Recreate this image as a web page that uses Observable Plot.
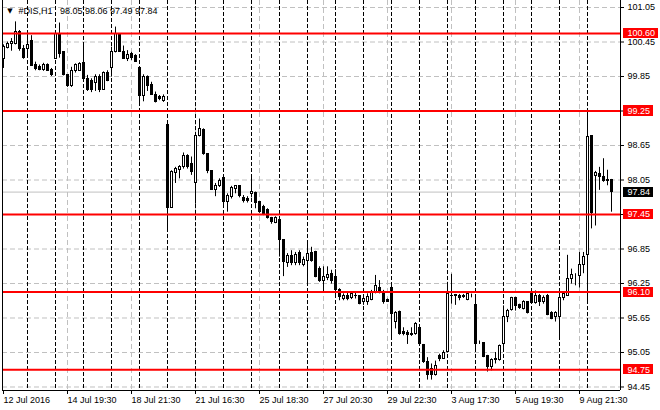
<!DOCTYPE html>
<html>
<head>
<meta charset="utf-8">
<script src="https://cdn.jsdelivr.net/npm/d3@7"></script>
<script src="https://cdn.jsdelivr.net/npm/@observablehq/plot@0.6"></script>
<style>
  body { margin: 0; background: #fff; }
</style>
</head>
<body>
<div id="chart"></div>
<script>
// #DIS H1 bars, one row per trading day (12 Jul 2016 starts mid-session)
const opens = [
  100.16, 100.35, 100.42, 100.42, 100.62, 100.33,
  100.33, 100.46, 100.05, 100.02, 99.97, 100.05, 99.96,
  100.16, 100.59, 100.27, 99.87, 99.68, 99.94, 99.95,
  100.09, 99.80, 99.77, 99.73, 99.85, 99.62, 99.91,
  99.99, 100.27, 100.57, 100.28, 100.15, 100.24, 100.20,
  99.99, 99.51, 99.84, 99.70, 99.53, 99.49, 99.42,
  99.00, 97.57, 98.17, 98.23, 98.27, 98.46, 98.33,
  97.99, 98.82, 98.92, 98.51, 98.20, 97.88, 97.95,
  98.09, 97.66, 97.75, 97.90, 97.94, 97.74, 97.72,
  97.80, 97.82, 97.66, 97.58, 97.53, 97.39, 97.30,
  97.36, 97.01, 96.60, 96.72, 96.60, 96.78, 96.58,
  96.65, 96.78, 96.79, 96.50, 96.29, 96.35, 96.42,
  96.37, 96.13, 95.98, 96.04, 96.00, 96.03, 96.04,
  95.93, 95.92, 95.96, 96.10, 96.18, 96.10, 95.97,
  96.18, 95.58, 95.76, 95.40, 95.39, 95.38, 95.37,
  95.47, 95.18, 94.88, 94.77, 94.66, 94.99, 94.94,
  95.06, 96.04, 96.03, 96.035, 96.03, 95.97, 96.06,
  95.87, 95.22, 95.21, 94.99, 94.79, 94.94, 94.92,
  95.19, 95.675, 95.79, 95.99, 95.87, 95.80, 95.92,
  96.09, 95.91, 96.035, 95.92, 96.035, 95.73, 95.66,
  95.66, 95.99, 96.04, 96.32, 96.36, 96.38, 96.57,
  96.74, 98.81, 98.12, 98.16, 98.10, 98.05, 98.05
]
const highs = [
  100.40, 100.45, 100.51, 100.80, 100.65, 100.39,
  100.63, 100.56, 100.10, 100.05, 100.08, 100.07, 99.99,
  100.65, 100.78, 100.28, 99.88, 100.01, 100.07, 100.09,
  100.38, 99.87, 99.81, 99.88, 99.88, 99.93, 99.95,
  100.36, 100.71, 100.59, 100.38, 100.30, 100.27, 100.23,
  99.99, 99.88, 99.86, 99.75, 99.58, 99.52, 99.53,
  99.04, 98.21, 98.27, 98.30, 98.52, 98.49, 98.45,
  98.82, 99.11, 98.94, 98.51, 98.20, 97.99, 98.07,
  98.10, 97.81, 97.94, 97.95, 97.95, 97.78, 97.76,
  98.13, 97.84, 97.66, 97.61, 97.55, 97.40, 97.41,
  97.37, 97.01, 96.77, 96.82, 96.79, 96.82, 96.71,
  96.97, 96.88, 96.81, 96.54, 96.54, 96.54, 96.48,
  96.49, 96.16, 96.07, 96.08, 96.10, 96.10, 96.04,
  96.00, 96.07, 96.13, 96.39, 96.30, 96.13, 95.98,
  96.21, 95.76, 95.77, 95.48, 95.43, 95.48, 95.57,
  95.48, 95.19, 94.96, 94.85, 94.90, 95.02, 95.08,
  96.27, 96.41, 96.06, 96.06, 96.06, 96.09, 96.065,
  96.04, 95.25, 95.22, 95.00, 94.94, 95.05, 95.18,
  95.86, 95.80, 96.01, 96.01, 95.89, 95.95, 95.93,
  96.16, 96.12, 96.06, 96.035, 96.06, 95.76, 95.76,
  96.13, 96.11, 96.74, 96.50, 96.42, 96.79, 96.79,
  99.23, 98.82, 98.20, 98.27, 98.42, 98.22, 98.06
]
const lows = [
  99.99, 100.33, 100.29, 100.40, 100.29, 100.15,
  100.22, 100.03, 99.95, 99.95, 99.94, 99.94, 99.85,
  100.15, 100.17, 99.86, 99.66, 99.66, 99.91, 99.94,
  99.80, 99.59, 99.57, 99.59, 99.57, 99.61, 99.76,
  99.84, 100.26, 100.27, 100.15, 100.11, 100.13, 100.10,
  99.33, 99.41, 99.59, 99.52, 99.39, 99.43, 99.40,
  97.14, 97.56, 97.99, 98.07, 98.24, 98.24, 98.13,
  97.63, 98.80, 98.48, 98.16, 97.87, 97.76, 97.92,
  97.58, 97.49, 97.72, 97.81, 97.74, 97.65, 97.65,
  97.74, 97.55, 97.47, 97.43, 97.37, 97.28, 97.29,
  96.71, 96.37, 96.53, 96.56, 96.56, 96.56, 96.54,
  96.20, 96.62, 96.35, 96.27, 96.10, 96.30, 96.24,
  96.05, 95.95, 95.95, 95.95, 95.97, 95.98, 95.88,
  95.87, 95.87, 95.95, 96.07, 96.07, 95.89, 95.92,
  95.30, 95.46, 95.35, 95.34, 95.19, 95.33, 95.35,
  95.17, 94.86, 94.57, 94.57, 94.64, 94.89, 94.93,
  95.04, 95.89, 95.87, 95.95, 95.99, 95.95, 96.00,
  95.12, 95.19, 94.96, 94.71, 94.73, 94.85, 94.90,
  95.12, 95.57, 95.77, 95.77, 95.80, 95.79, 95.72,
  95.89, 95.89, 95.85, 95.89, 95.69, 95.62, 95.58,
  95.26, 95.95, 96.03, 96.24, 96.21, 96.17, 96.42,
  95.90, 97.20, 97.25, 97.87, 98.01, 97.95, 97.49
]
const closes = [
  100.36, 100.41, 100.45, 100.62, 100.33, 100.17,
  100.39, 100.04, 99.98, 99.97, 100.05, 99.95, 99.87,
  100.59, 100.24, 99.87, 99.68, 99.95, 100.05, 100.07,
  99.81, 99.61, 99.61, 99.84, 99.61, 99.91, 99.78,
  100.28, 100.59, 100.28, 100.16, 100.23, 100.17, 100.11,
  99.51, 99.85, 99.69, 99.53, 99.40, 99.46, 99.50,
  97.57, 98.19, 98.24, 98.27, 98.46, 98.27, 98.19,
  98.82, 98.94, 98.51, 98.20, 97.88, 97.95, 98.03,
  97.66, 97.78, 97.91, 97.94, 97.78, 97.68, 97.68,
  97.84, 97.65, 97.49, 97.46, 97.39, 97.32, 97.39,
  97.00, 96.62, 96.72, 96.60, 96.74, 96.60, 96.66,
  96.77, 96.65, 96.36, 96.29, 96.37, 96.39, 96.30,
  96.13, 96.02, 96.04, 95.98, 96.06, 96.04, 95.90,
  95.98, 96.01, 96.10, 96.21, 96.10, 95.92, 95.93,
  95.72, 95.73, 95.37, 95.37, 95.35, 95.35, 95.54,
  95.19, 94.88, 94.66, 94.66, 94.82, 94.93, 95.04,
  96.06, 96.035, 96.05, 95.99, 96.02, 96.06, 96.06,
  95.19, 95.22, 94.98, 94.79, 94.92, 94.92, 95.165,
  95.675, 95.775, 95.99, 95.86, 95.83, 95.93, 95.73,
  95.91, 96.035, 95.93, 95.99, 95.70, 95.64, 95.745,
  96.005, 96.06, 96.32, 96.39, 96.36, 96.57, 96.71,
  98.79, 97.48, 98.18, 98.10, 98.04, 98.04, 97.84
]

// axis ticks
const xTickIdx = [0, 16, 32, 48, 64, 80, 96, 112, 128, 144]
const xLabels = ['12 Jul 2016', '14 Jul 19:30', '18 Jul 21:30', '21 Jul 16:30', '25 Jul 18:30',
  '27 Jul 20:30', '29 Jul 22:30', '3 Aug 17:30', '5 Aug 19:30', '9 Aug 21:30']
const yTicks = [101.05, 100.45, 99.85, 99.25, 98.65, 98.05, 97.45, 96.85, 96.25, 95.65, 95.05, 94.45]

// horizontal levels drawn on the chart
const levels = [100.60, 99.25, 97.45, 96.10, 94.75]
const lastPrice = 97.84

const bars = opens.map((o, i) => ({ i, o, h: highs[i], l: lows[i], c: closes[i] }))
const last = bars[bars.length - 1]
const dayStarts = d3.range(6, bars.length, 7)
const fmt = d3.format('.2f')
const nb = '\u00a0'
const header = `#DIS,H1${nb}${nb}${nb}${fmt(last.o)}${nb}${fmt(last.h)}${nb}${fmt(last.l)}${nb}${fmt(last.c)}`

const tags = levels.map(v => ({ v, color: '#ff0000' })).concat([{ v: lastPrice, color: 'black' }])
const tagW = d => (fmt(d.v).length * 5 + 5) / 4

const chart = Plot.plot({
  width: 660,
  height: 410,
  marginLeft: 2,
  marginRight: 40,
  marginTop: 0,
  marginBottom: 20,
  style: { fontFamily: '"Liberation Sans", Arial, sans-serif', fontSize: '9px', background: 'white', color: 'black' },
  x: { domain: [-0.25, 154.25], ticks: xTickIdx, tickFormat: () => '', tickSize: 4, label: null },
  y: { domain: [94.389, 101.172], axis: 'right', ticks: yTicks, tickFormat: () => '', tickSize: 3, label: null },
  marks: [
    // grid
    Plot.ruleY(yTicks, { stroke: '#c0c0c0', strokeDasharray: '5,3' }),
    Plot.ruleX(xTickIdx.slice(1), { stroke: '#c0c0c0', strokeDasharray: '5,3' }),
    // period separators
    Plot.ruleX(dayStarts, { stroke: 'black', strokeDasharray: '4,2' }),
    // bid line
    Plot.ruleY([lastPrice], { stroke: '#c0c0c0' }),
    // candles
    Plot.ruleX(bars, { x: 'i', y1: 'l', y2: 'h', stroke: 'black' }),
    Plot.rect(bars.filter(d => d.c >= d.o), {
      x1: d => d.i - 0.25, x2: d => d.i + 0.25, y1: 'o', y2: 'c',
      fill: 'white', stroke: 'black', shapeRendering: 'crispEdges'
    }),
    Plot.rect(bars.filter(d => d.c < d.o), {
      x1: d => d.i - 0.25, x2: d => d.i + 0.25, y1: 'o', y2: 'c',
      fill: 'black', stroke: 'black', shapeRendering: 'crispEdges'
    }),
    // levels
    Plot.ruleY(levels, { stroke: '#ff0000', strokeWidth: 2 }),
    // frame
    Plot.ruleX([-0.25, 154.25], { stroke: 'black' }),
    Plot.ruleY([94.389], { stroke: 'black' }),
    // price scale labels
    Plot.text(yTicks, { y: d => d, text: d => fmt(d), frameAnchor: 'right', dx: 7, textAnchor: 'start', lineAnchor: 'middle' }),
    Plot.rect(tags, {
      x1: 155, x2: d => 155 + tagW(d), y1: d => d.v - 0.088, y2: d => d.v + 0.088,
      fill: d => d.color, shapeRendering: 'crispEdges'
    }),
    Plot.text(tags, { y: 'v', text: d => fmt(d.v), frameAnchor: 'right', dx: 7, textAnchor: 'start', lineAnchor: 'middle', fill: 'white' }),
    // time scale labels
    Plot.text(xTickIdx, { x: d => d, text: (d, i) => xLabels[i], frameAnchor: 'bottom', dy: 10, textAnchor: 'start', lineAnchor: 'middle' }),
    // header
    Plot.text(['\u25bc'], { frameAnchor: 'top-left', dx: 7.5, dy: 10.5, fontSize: 7, textAnchor: 'middle', lineAnchor: 'middle', fontFamily: '"DejaVu Sans", sans-serif' }),
    Plot.text([header], { frameAnchor: 'top-left', dx: 16, dy: 11, textAnchor: 'start', lineAnchor: 'middle' })
  ]
})

d3.select('#chart').append(() => chart)
</script>
</body>
</html>
